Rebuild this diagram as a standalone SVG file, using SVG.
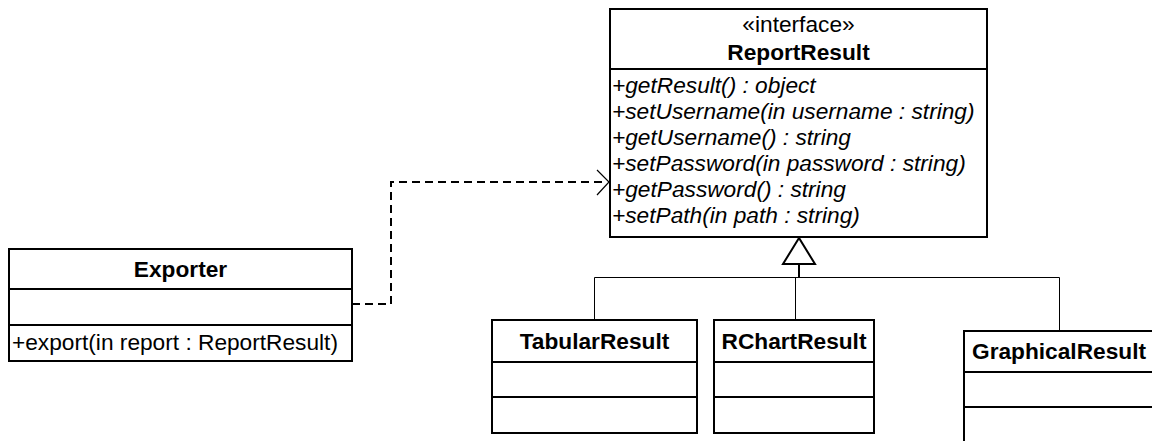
<svg xmlns="http://www.w3.org/2000/svg" width="1152" height="441" viewBox="0 0 1152 441">
  <style>
    .box { fill: #ffffff; stroke: #000000; stroke-width: 2; }
    .div { stroke: #000000; stroke-width: 2; }
    .t { font-family: "Liberation Sans", Arial, sans-serif; font-size: 22.7px; fill: #000000; }
    .b { font-weight: bold; text-anchor: middle; }
    .c { text-anchor: middle; }
    .i { font-style: italic; }
    .gen { fill: none; stroke: #000000; stroke-width: 1; }
    .dep { fill: none; stroke: #000000; stroke-width: 2; stroke-dasharray: 8 5; }
    .head { fill: none; stroke: #000000; stroke-width: 1.2; }
  </style>
  <rect width="1152" height="441" fill="#ffffff"/>

  <g id="connectors">
    <!-- dependency: Exporter uses ReportResult -->
    <path class="dep" d="M352 304 H391 V182 H607"/>
    <path class="head" d="M597 170 L609 182 L597 195"/>
    <!-- realization tree into ReportResult -->
    <path class="gen" d="M594.5 320 V277.5 H1059.5 V331"/>
    <path class="gen" d="M795.5 277.5 V320"/>
    <path d="M799 277 V264" stroke="#000" stroke-width="2" fill="none"/>
    <polygon points="799,238 783,264 815,264" fill="#ffffff" stroke="#000" stroke-width="2"/>
  </g>

  <g id="ReportResult">
    <rect class="box" x="610" y="9" width="377" height="228"/>
    <line class="div" x1="610" y1="69" x2="987" y2="69"/>
    <text class="t c" x="798.5" y="32">«interface»</text>
    <text class="t b" x="798.5" y="60">ReportResult</text>
    <text class="t i" x="612" y="93">+getResult() : object</text>
    <text class="t i" x="612" y="119">+setUsername(in username : string)</text>
    <text class="t i" x="612" y="145">+getUsername() : string</text>
    <text class="t i" x="612" y="171">+setPassword(in password : string)</text>
    <text class="t i" x="612" y="197">+getPassword() : string</text>
    <text class="t i" x="612" y="223">+setPath(in path : string)</text>
  </g>

  <g id="Exporter">
    <rect class="box" x="9" y="249" width="343" height="112"/>
    <line class="div" x1="9" y1="289" x2="352" y2="289"/>
    <line class="div" x1="9" y1="325" x2="352" y2="325"/>
    <text class="t b" x="180.5" y="277">Exporter</text>
    <text class="t" x="12" y="350">+export(in report : ReportResult)</text>
  </g>

  <g id="TabularResult">
    <rect class="box" x="492" y="320" width="205" height="113"/>
    <line class="div" x1="492" y1="362" x2="697" y2="362"/>
    <line class="div" x1="492" y1="397" x2="697" y2="397"/>
    <text class="t b" x="594.5" y="349">TabularResult</text>
  </g>

  <g id="RChartResult">
    <rect class="box" x="714" y="320" width="160" height="113"/>
    <line class="div" x1="714" y1="362" x2="874" y2="362"/>
    <line class="div" x1="714" y1="397" x2="874" y2="397"/>
    <text class="t b" x="794" y="349">RChartResult</text>
  </g>

  <g id="GraphicalResult">
    <rect class="box" x="964" y="331" width="190" height="114"/>
    <line class="div" x1="964" y1="372" x2="1154" y2="372"/>
    <line class="div" x1="964" y1="407" x2="1154" y2="407"/>
    <text class="t b" x="1059" y="359">GraphicalResult</text>
  </g>
</svg>
